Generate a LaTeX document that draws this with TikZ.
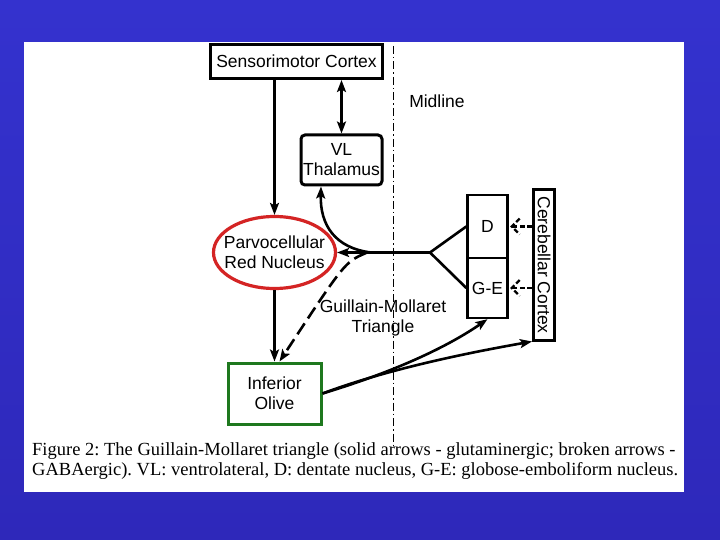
\documentclass[tikz,border=0pt]{standalone}
\usepackage{fontspec}
\setmainfont{Liberation Serif}
\setsansfont{Liberation Sans}
\usetikzlibrary{arrows.meta,shapes.geometric,calc}
\definecolor{bgtop}{RGB}{52,50,206}
\definecolor{bgbot}{RGB}{46,40,186}
\definecolor{rnred}{RGB}{212,36,36}
\definecolor{iogreen}{RGB}{30,120,30}
\tikzset{
  box/.style={draw=black,line width=3pt,fill=white,inner sep=0pt,align=center,font=\sffamily\fontsize{17.5}{20}\selectfont},
  thinbox/.style={draw=black,line width=2.4pt,fill=white,inner sep=0pt,align=center,font=\sffamily\fontsize{17.5}{20}\selectfont},
  lbl/.style={align=center,font=\sffamily\fontsize{17.5}{20}\selectfont,inner sep=0pt},
  arr/.style={line width=2.6pt,-{Stealth[length=12pt,width=9pt,inset=2.5pt]}},
  darr/.style={line width=2.6pt,{Stealth[length=12pt,width=9pt,inset=2.5pt]}-{Stealth[length=12pt,width=9pt,inset=2.5pt]}},
  brk/.style={arr,dash pattern=on 13pt off 6pt},
  smalldsh/.style={line width=2.4pt,dash pattern=on 5pt off 2.5pt},
  midl/.style={line width=0.9pt,dash pattern=on 8pt off 3pt on 1.5pt off 3pt}
}
\begin{document}
\begin{tikzpicture}[x=1pt,y=-1pt]
\useasboundingbox (0,0) rectangle (720,540);
\shade[top color=bgtop,bottom color=bgbot] (0,0) rectangle (720,540);
\fill[white] (24,42) rectangle (684,492);
% midline
\coordinate (mtop) at (393,46);
\coordinate (mbot) at (393,445);
\draw[midl] (mtop) -- (mbot);
\node[lbl] (mid) at (437,101) {Midline};
% nodes
\node[box,minimum width=172pt,minimum height=34pt] (smc) at (296.5,61.5) {Sensorimotor Cortex};
\node[box,rounded corners=4pt,minimum width=81pt,minimum height=50pt] (vl) at (341.5,160) {VL\\Thalamus};
\node[lbl,draw=rnred,line width=3.2pt,ellipse,inner xsep=-12pt,inner ysep=-5pt,minimum width=122pt,minimum height=72pt] (rn) at (274.5,252.5) {Parvocellular\\Red Nucleus};
\node[box,draw=iogreen,minimum width=93pt,minimum height=61pt] (io) at (274.5,393.5) {Inferior\\Olive};
\node[thinbox,minimum width=40pt,minimum height=63pt] (d) at (487.5,226.5) {D};
\node[thinbox,minimum width=40pt,minimum height=60pt] (ge) at (487.5,288) {G-E};
\node[box,rotate=-90,minimum width=150pt,minimum height=21pt] (cc) at (544,265) {Cerebellar Cortex};
\node[lbl] (gmt) at (383,317.5) {Guillain-Mollaret\\Triangle};
% connectors
\draw[darr] (smc.south -| vl.north) -- (vl.north);
\draw[arr] (smc.south -| rn.north) -- (rn.north);
\draw[arr] (rn.south -| io.north) -- (io.north);
\coordinate (j) at (430,252.5);
\coordinate (jm) at (371,252.5);
\draw[line width=2.6pt] (d.west) -- (j) -- (ge.west);
\draw[arr] (j) -- (rn.east);
\draw[arr] (jm) .. controls (335,248) and (320,225) .. (vl.south -| 321,0);
\draw[brk] (366,253) .. controls (345,262) .. ($(io.north)+(5,0)$);
\draw[arr] (io.east) .. controls (400,370) and (450,345) .. (ge.south);
\draw[arr] (io.east) .. controls (380,372) and (450,356) .. (cc.south east);
% dashed arrows from cerebellar cortex
\foreach \n in {d,ge}{
  \draw[smalldsh] (cc.south |- \n.east) -- ($(\n.east)+(3,0)$);
  \draw[smalldsh] ($(\n.east)+(11,-8)$) -- ($(\n.east)+(3,0)$) -- ($(\n.east)+(11,8)$);
}
% caption
\node[anchor=west,inner sep=0pt,font=\frenchspacing\fontsize{18.5}{20}\selectfont] (cap1) at (32,451) {Figure 2: The Guillain-Mollaret triangle (solid arrows - glutaminergic; broken arrows -};
\node[anchor=west,inner sep=0pt,font=\frenchspacing\fontsize{18.5}{20}\selectfont] (cap2) at (32,471) {GABAergic). VL: ventrolateral, D: dentate nucleus, G-E: globose-emboliform nucleus.};
\end{tikzpicture}
\end{document}
